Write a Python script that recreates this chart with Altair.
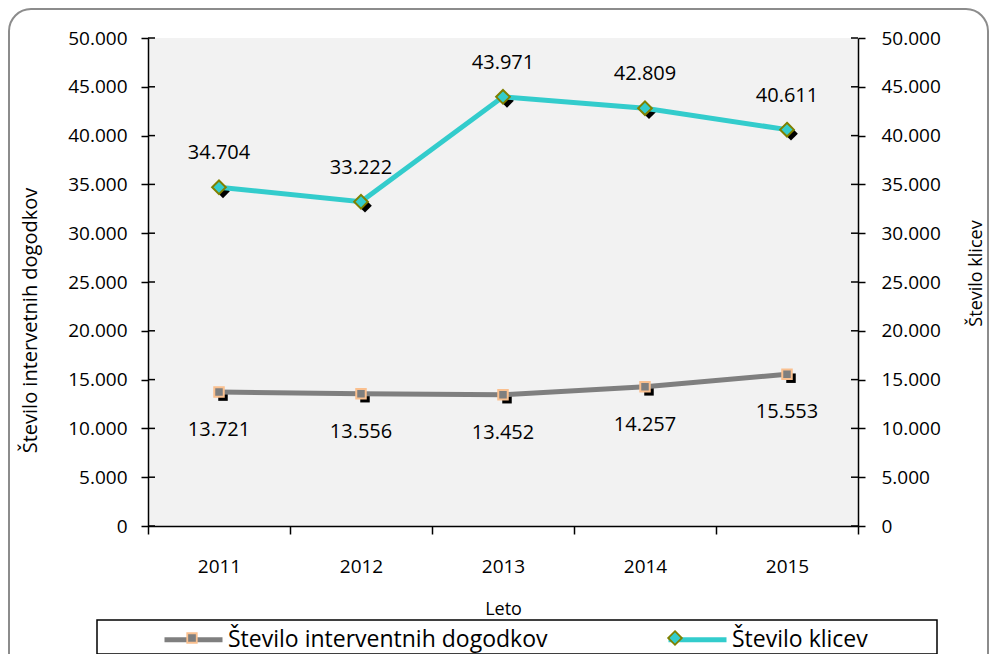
import altair as alt
import pandas as pd

# ---- data ----
years = ["2011", "2012", "2013", "2014", "2015"]
dogodki = [13721, 13556, 13452, 14257, 15553]
klici = [34704, 33222, 43971, 42809, 40611]
series_names = ["Število interventnih dogodkov", "Število klicev"]
y_ticks = [0, 5000, 10000, 15000, 20000, 25000, 30000, 35000, 40000, 45000, 50000]

rows = []
for i, yr in enumerate(years):
    rows.append({"leto": yr, "serija": series_names[0], "serija2": series_names[0], "vrednost": dogodki[i]})
    rows.append({"leto": yr, "serija": series_names[1], "serija2": series_names[1], "vrednost": klici[i]})
df = pd.DataFrame(rows)
ticks_df = pd.DataFrame({"t": y_ticks})

FONT = "Open Sans"
GRAY = "#7F7F7F"
CYAN = "#33CCCC"
PEACH = "#FAC08F"
OLIVE = "#808000"
fmt = "replace(format(datum.value, ','), ',', '.')"

yscale = alt.Scale(domain=[0, 50000], nice=False, zero=True)
xscale = alt.Scale(type="band", paddingInner=0, paddingOuter=0)

x_enc = alt.X(
    "leto:N", scale=xscale, sort=years,
    axis=alt.Axis(title="Leto", tickBand="extent", tickSize=8, tickColor="black", tickWidth=1.5,
                  domainColor="black", domainWidth=1.5, labelAngle=0, labelFont=FONT,
                  labelFontSize=19, labelColor="black", labelPadding=23, titleFont=FONT,
                  titleFontSize=18, titleFontWeight="normal", titleColor="black", titlePadding=24),
)

left_axis = alt.Axis(
    title="Število intervetnih dogodkov", values=y_ticks, labelExpr=fmt, grid=False,
    tickSize=7, tickColor="black", tickWidth=1.5, domainColor="black", domainWidth=1.5,
    labelFont=FONT, labelFontSize=19, labelColor="black", labelPadding=14,
    titleFont=FONT, titleFontSize=20, titleFontWeight="normal", titleColor="black",
    titleAngle=-90, titleBaseline="middle", titleX=-118, titleY=282,
)
right_axis = alt.Axis(
    title="Število klicev", orient="right", values=y_ticks, labelExpr=fmt, grid=False,
    tickSize=7, tickColor="black", tickWidth=1.5, domainColor="black", domainWidth=1.5,
    labelFont=FONT, labelFontSize=19, labelColor="black", labelPadding=16,
    titleFont=FONT, titleFontSize=18, titleFontWeight="normal", titleColor="black",
    titleAngle=-90, titleBaseline="middle", titleX=118, titleY=235,
)

base = alt.Chart(df)
one = alt.Chart(pd.DataFrame({"k": [0]}))

# outer rounded frame (decoration)
frame = one.mark_rect(fill="white", fillOpacity=0, stroke="#8C8C8C", strokeWidth=2, cornerRadius=22).encode(
    x=alt.value(-139), x2=alt.value(840), y=alt.value(-29), y2=alt.value(700)
)
# legend box (decoration)
legend_box = one.mark_rect(fill="white", stroke="black", strokeWidth=1.5).encode(
    x=alt.value(-51), x2=alt.value(789), y=alt.value(582), y2=alt.value(616)
)

# inner halves of the crossing y ticks
tick_in_left = alt.Chart(ticks_df).mark_rule(color="black", strokeWidth=1.5).encode(
    y=alt.Y("t:Q", scale=yscale, axis=None), x=alt.value(0), x2=alt.value(7)
)
tick_in_right = alt.Chart(ticks_df).mark_rule(color="black", strokeWidth=1.5).encode(
    y=alt.Y("t:Q", scale=yscale, axis=None), x=alt.value(703), x2=alt.value(710)
)

sq_path = "M-0.25,-0.25H0.25V0.25H-0.25Z"
dia_path = "M0,-0.36L0.36,0L0,0.36L-0.36,0Z"

legend_common = dict(orient="none", direction="horizontal", title=None,
                     labelFont=FONT, labelFontSize=23, columnPadding=110,
                     padding=0, labelLimit=0)

shadow_d = base.transform_filter(alt.datum.serija == series_names[0]).mark_point(
    shape=sq_path, filled=True, color="black", size=1444, xOffset=4, yOffset=4, opacity=1
).encode(x=x_enc, y=alt.Y("vrednost:Q", scale=yscale, axis=None))
shadow_k = base.transform_filter(alt.datum.serija == series_names[1]).mark_point(
    shape=dia_path, filled=True, color="black", size=1444, xOffset=4, yOffset=4, opacity=1
).encode(x=x_enc, y=alt.Y("vrednost:Q", scale=yscale, axis=None))

lines = base.mark_line(strokeWidth=5).encode(
    x=x_enc,
    y=alt.Y("vrednost:Q", scale=yscale, axis=left_axis),
    color=alt.Color("serija:N", scale=alt.Scale(domain=series_names, range=[GRAY, CYAN]),
                    legend=alt.Legend(**legend_common, legendX=14, legendY=570, symbolSize=3364,
                                      labelOffset=3, labelColor="black", symbolType="stroke",
                                      symbolStrokeWidth=5, symbolOpacity=1)),
)

pts_legend = alt.Legend(**legend_common, legendX=24, legendY=580, symbolSize=1444, labelOffset=13,
                        labelColor="transparent", symbolStrokeWidth=1.8, symbolOpacity=1)

pts = base.mark_point(filled=True, size=1444, strokeWidth=2, opacity=1, fillOpacity=1, strokeOpacity=1).encode(
    x=x_enc,
    y=alt.Y("vrednost:Q", scale=yscale, axis=None),
    fill=alt.Fill("serija2:N", scale=alt.Scale(range=[GRAY, CYAN]), legend=pts_legend),
    stroke=alt.Stroke("serija2:N", scale=alt.Scale(range=[PEACH, OLIVE]), legend=pts_legend),
    shape=alt.Shape("serija2:N", scale=alt.Scale(range=[sq_path, dia_path]), legend=pts_legend),
)

txt_k = base.transform_filter(alt.datum.serija == series_names[1]).transform_calculate(
    lab="replace(format(datum.vrednost, ','), ',', '.')"
).mark_text(dy=-34, font=FONT, fontSize=20, color="black").encode(
    x=x_enc, y=alt.Y("vrednost:Q", scale=yscale, axis=right_axis), text="lab:N"
)

txt_d = base.transform_filter(alt.datum.serija == series_names[0]).transform_calculate(
    lab="replace(format(datum.vrednost, ','), ',', '.')"
).mark_text(dy=38, font=FONT, fontSize=20, color="black").encode(
    x=x_enc, y=alt.Y("vrednost:Q", scale=yscale, axis=None), text="lab:N"
)

chart = alt.layer(frame, legend_box, tick_in_left, tick_in_right, shadow_d, shadow_k, lines, pts, txt_k, txt_d).resolve_axis(
    y="independent"
).properties(
    width=710, height=488,
    autosize=alt.AutoSizeParams(type="none"),
    padding={"left": 140, "top": 30, "right": 131, "bottom": 128},
    background="white",
).configure_view(stroke=None, fill="#F2F2F2")

chart.save("out.html", embed_options={"renderer": "svg", "actions": False})
